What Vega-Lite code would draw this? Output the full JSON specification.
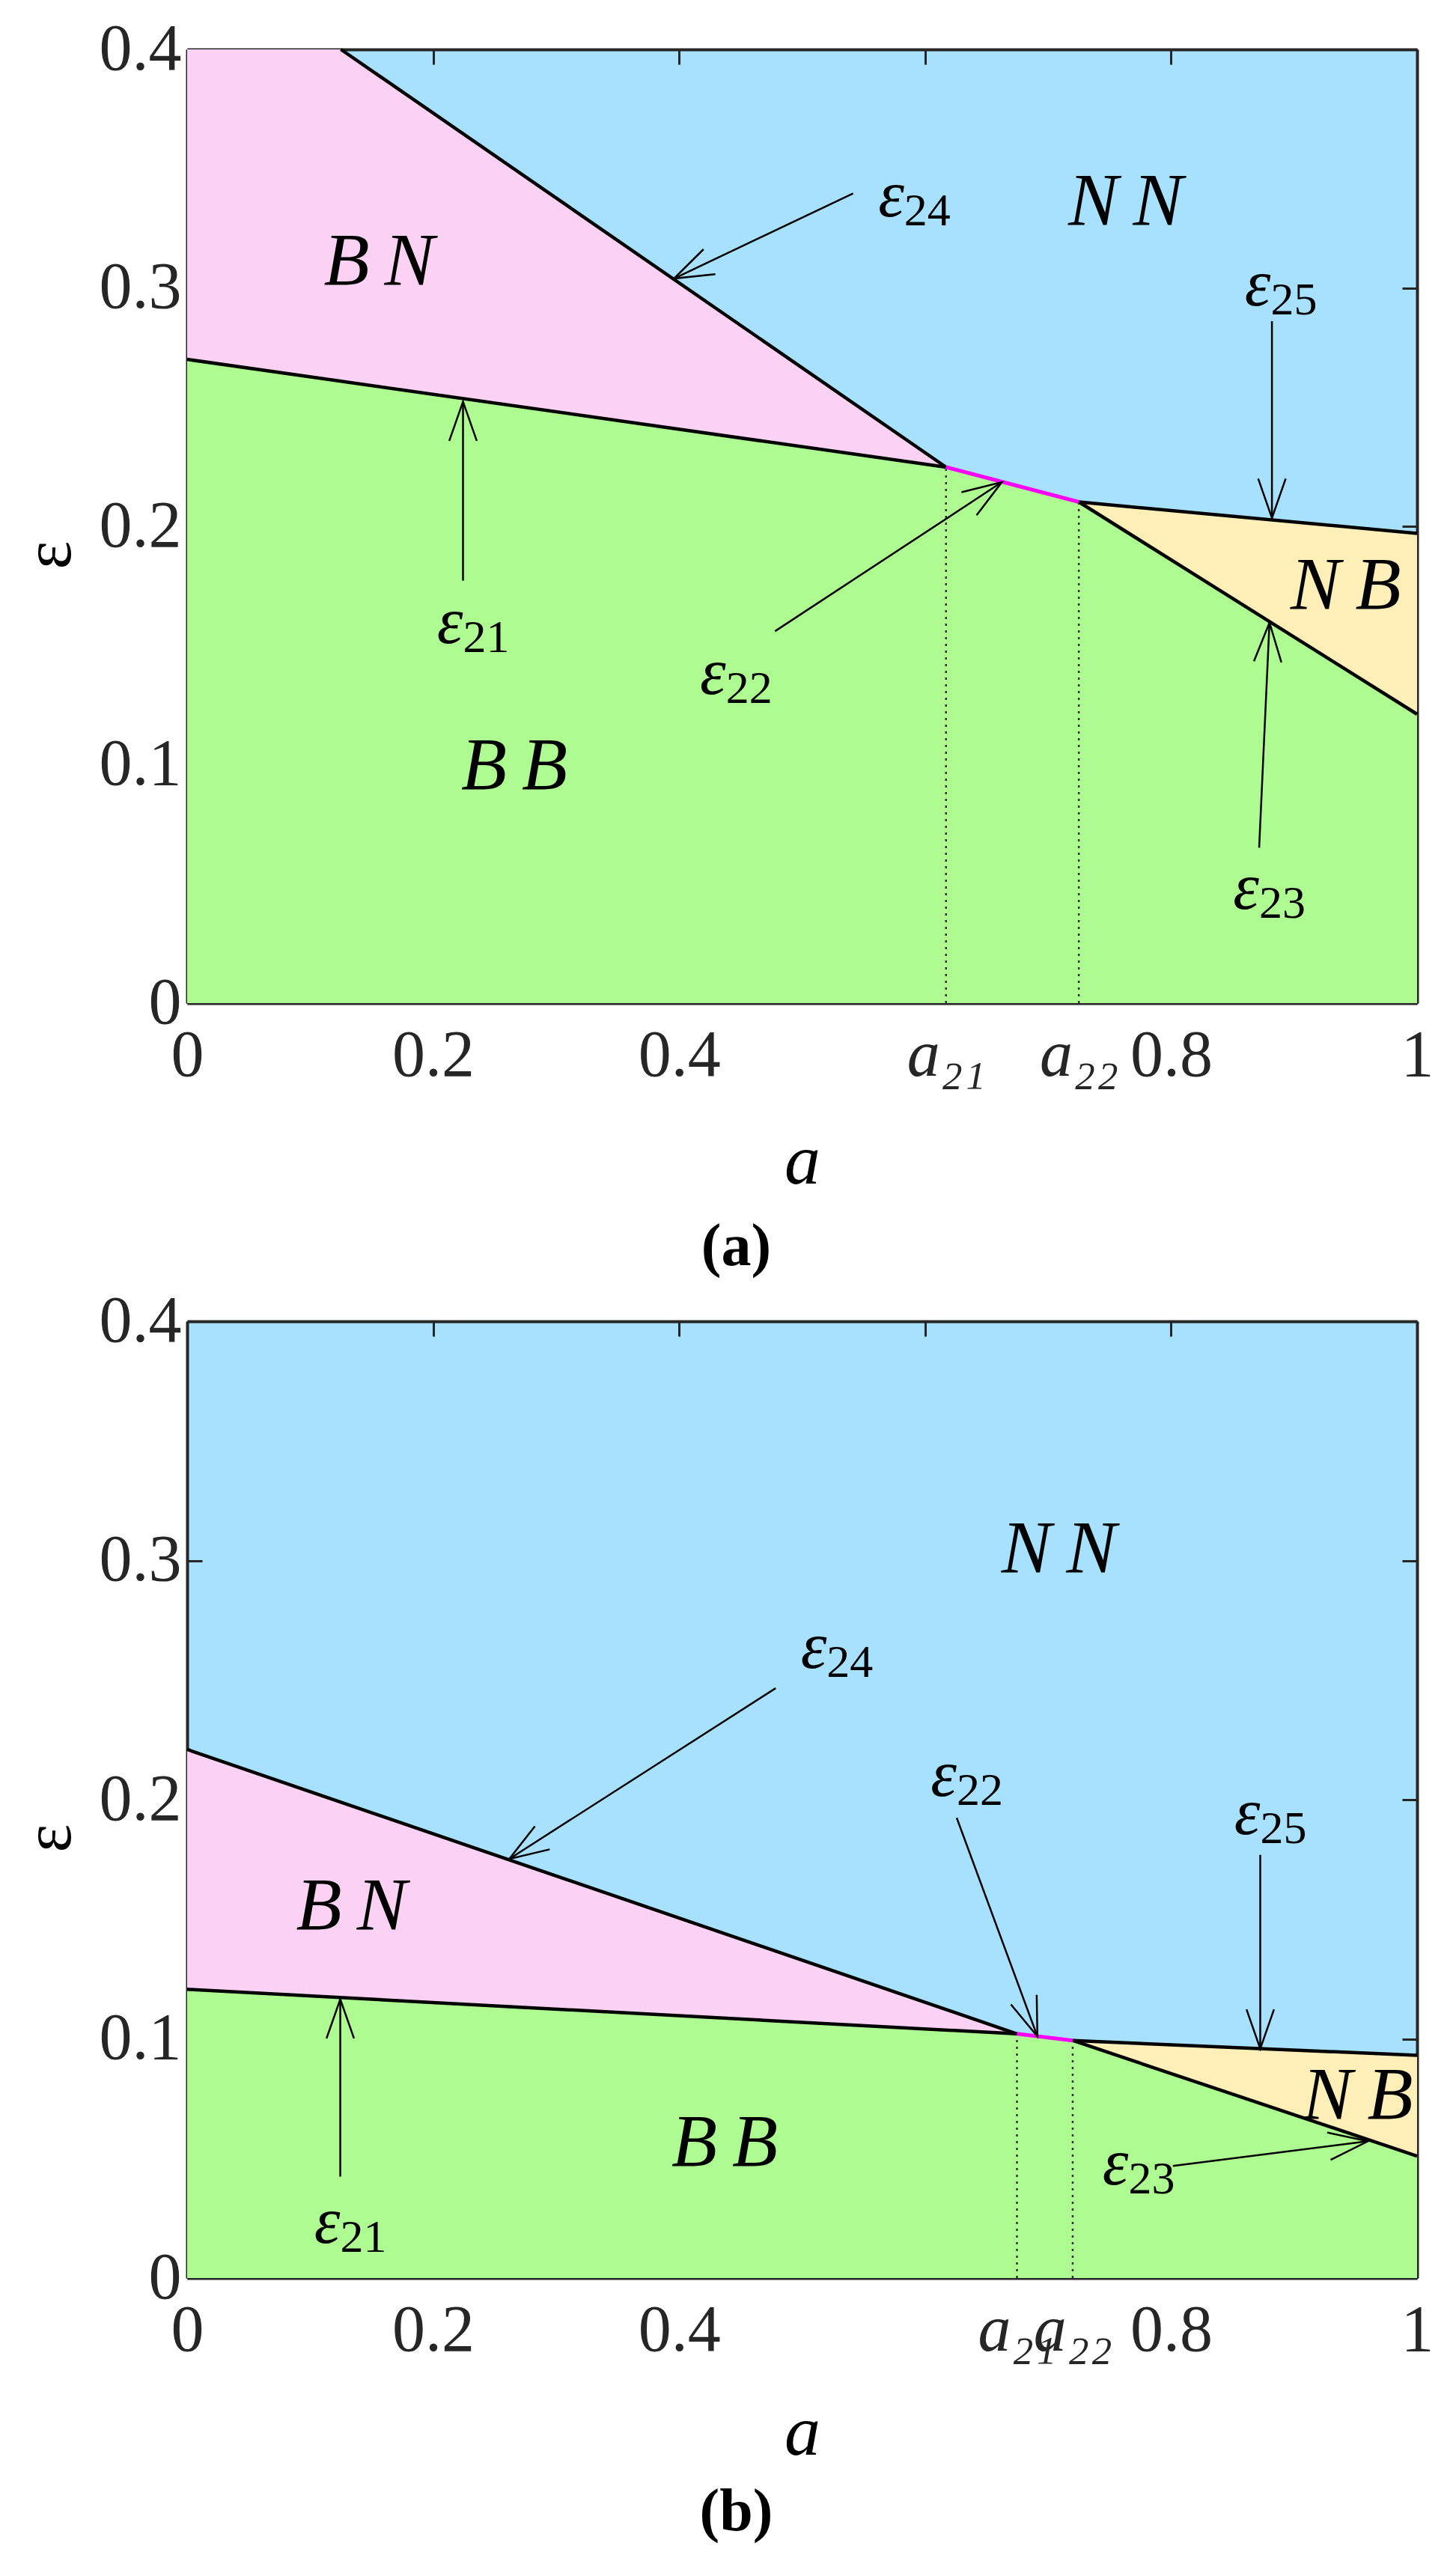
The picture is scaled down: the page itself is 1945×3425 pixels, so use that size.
{
  "$schema": "https://vega.github.io/schema/vega-lite/v6.json",
  "background": "white",
  "padding": {"left": 21, "top": 22, "right": 10, "bottom": 10},
  "spacing": 15,
  "config": {
    "view": {"stroke": null, "fill": "#a7e1fd"},
    "font": "Liberation Serif",
    "axis": {
      "grid": false, "domain": true, "domainColor": "#262626", "domainWidth": 4,
      "labelFont": "Liberation Serif", "labelFontSize": 88, "labelColor": "#262626",
      "tickColor": "#262626", "tickWidth": 3, "tickSize": -20,
      "titleFont": "Liberation Serif", "titleFontWeight": "normal", "titleColor": "black",
      "labelOverlap": false, "labelBound": false, "labelFlush": false, "zindex": 1
    },
    "text": {"font": "Liberation Serif"}
  },
  "datasets": {
    "pinkA": [{"a": 0, "e": 0.4}, {"a": 0.125, "e": 0.4}, {"a": 0.617, "e": 0.2248}],
    "yellowA": [{"a": 0.725, "e": 0.2102}, {"a": 1, "e": 0.197}],
    "greenA": [{"a": 0, "e": 0.270}, {"a": 0.617, "e": 0.2248}, {"a": 0.725, "e": 0.2102}, {"a": 1, "e": 0.1212}],
    "segA": [
      {"a": 0, "e": 0.270, "a2": 0.617, "e2": 0.2248},
      {"a": 0.125, "e": 0.4, "a2": 0.617, "e2": 0.2248},
      {"a": 0.725, "e": 0.2102, "a2": 1, "e2": 0.197},
      {"a": 0.725, "e": 0.2102, "a2": 1, "e2": 0.1212}
    ],
    "magA": [{"a": 0.617, "e": 0.2248, "a2": 0.725, "e2": 0.2102}],
    "dotA": [{"a": 0.617, "e": 0, "e2": 0.2248}, {"a": 0.725, "e": 0, "e2": 0.2102}],
    "arrA": [
      {"a": 0.5415, "e": 0.3396, "a2": 0.3958, "e2": 0.3039},
      {"a": 0.882, "e": 0.286, "a2": 0.882, "e2": 0.2035},
      {"a": 0.2243, "e": 0.1772, "a2": 0.2243, "e2": 0.2523},
      {"a": 0.478, "e": 0.156, "a2": 0.6624, "e2": 0.2185},
      {"a": 0.8716, "e": 0.0652, "a2": 0.880, "e2": 0.1596}
    ],
    "epsA": [
      {"sub": "24", "a": 0.583, "e": 0.330},
      {"sub": "25", "a": 0.881, "e": 0.2927},
      {"sub": "21", "a": 0.2243, "e": 0.1511},
      {"sub": "22", "a": 0.438, "e": 0.1297},
      {"sub": "23", "a": 0.8716, "e": 0.0397}
    ],
    "regA": [
      {"label": "B\u2009N", "a": 0.156, "e": 0.3107},
      {"label": "N\u2009N", "a": 0.763, "e": 0.336},
      {"label": "B\u2009B", "a": 0.266, "e": 0.0991},
      {"label": "N\u2009B", "a": 0.942, "e": 0.1749}
    ],
    "pinkB": [{"a": 0, "e": 0.221}, {"a": 0.6747, "e": 0.1021}],
    "yellowB": [{"a": 0.72, "e": 0.0993}, {"a": 1, "e": 0.0931}],
    "greenB": [{"a": 0, "e": 0.1207}, {"a": 0.6747, "e": 0.1021}, {"a": 0.72, "e": 0.0993}, {"a": 1, "e": 0.051}],
    "segB": [
      {"a": 0, "e": 0.1207, "a2": 0.6747, "e2": 0.1021},
      {"a": 0, "e": 0.221, "a2": 0.6747, "e2": 0.1021},
      {"a": 0.72, "e": 0.0993, "a2": 1, "e2": 0.0931},
      {"a": 0.72, "e": 0.0993, "a2": 1, "e2": 0.051}
    ],
    "magB": [{"a": 0.6747, "e": 0.1021, "a2": 0.72, "e2": 0.0993}],
    "dotB": [{"a": 0.6747, "e": 0, "e2": 0.1021}, {"a": 0.72, "e": 0, "e2": 0.0993}],
    "arrB": [
      {"a": 0.4785, "e": 0.2466, "a2": 0.2619, "e2": 0.1752},
      {"a": 0.6257, "e": 0.1924, "a2": 0.6913, "e2": 0.101},
      {"a": 0.8725, "e": 0.1769, "a2": 0.8725, "e2": 0.0959},
      {"a": 0.1245, "e": 0.0424, "a2": 0.1245, "e2": 0.1166},
      {"a": 0.8015, "e": 0.0469, "a2": 0.96, "e2": 0.0572}
    ],
    "epsB": [
      {"sub": "24", "a": 0.520, "e": 0.2552},
      {"sub": "22", "a": 0.6257, "e": 0.2017},
      {"sub": "25", "a": 0.8725, "e": 0.1855},
      {"sub": "21", "a": 0.1245, "e": 0.0148},
      {"sub": "23", "a": 0.7653, "e": 0.039}
    ],
    "regB": [
      {"label": "N\u2009N", "a": 0.7087, "e": 0.3045},
      {"label": "B\u2009N", "a": 0.1336, "e": 0.1552},
      {"label": "B\u2009B", "a": 0.437, "e": 0.0562},
      {"label": "N\u2009B", "a": 0.9517, "e": 0.0759}
    ]
  },
  "vconcat": [
    {
      "width": 1643, "height": 1274,
      "title": {"text": "(a)", "orient": "bottom", "fontSize": 80, "fontWeight": "bold", "font": "Liberation Serif", "dx": -88, "offset": 28, "color": "black"},
      "resolve": {"axis": {"x": "independent", "y": "independent"}},
      "layer": [
        {
          "data": {"name": "pinkA"},
          "mark": {"type": "area", "color": "#fcd2f4"},
          "encoding": {
            "x": {"field": "a", "type": "quantitative", "scale": {"domain": [0, 1], "nice": false},
              "axis": {"orient": "bottom", "values": [0, 0.2, 0.4, 0.6, 0.617, 0.725, 0.8, 1], "format": "~g",
                "labelExpr": "datum.value==0.617?'a₂₁':datum.value==0.725?'a₂₂':datum.value==0.6?'':datum.label",
                "labelFontStyle": {"condition": {"test": "datum.value==0.617||datum.value==0.725", "value": "italic"}, "value": "normal"},
                "tickOpacity": {"condition": {"test": "datum.value==0.617||datum.value==0.725", "value": 0}, "value": 1},
                "title": "a", "titleFontStyle": "italic", "titleFontSize": 96, "labelPadding": 46, "titlePadding": 50}},
            "y": {"field": "e", "type": "quantitative", "scale": {"domain": [0, 0.4], "nice": false},
              "axis": {"orient": "left", "values": [0, 0.1, 0.2, 0.3, 0.4], "format": "~g", "title": "ε", "titleAngle": 270, "titleY": 675, "titleFontSize": 90, "labelPadding": 28, "titlePadding": 20}}
          }
        },
        {
          "data": {"name": "yellowA"},
          "mark": {"type": "area", "color": "#feeeb8"},
          "encoding": {
            "x": {"field": "a", "type": "quantitative", "axis": {"orient": "top", "values": [0, 0.2, 0.4, 0.6, 0.8, 1], "labels": false, "title": null}},
            "y": {"field": "e", "type": "quantitative", "axis": {"orient": "right", "values": [0, 0.1, 0.2, 0.3, 0.4], "labels": false, "title": null}}
          }
        },
        {
          "data": {"name": "greenA"},
          "mark": {"type": "area", "color": "#aefc91"},
          "encoding": {
            "x": {"field": "a", "type": "quantitative", "axis": null},
            "y": {"field": "e", "type": "quantitative", "axis": null}
          }
        },
        {
          "data": {"name": "dotA"},
          "mark": {"type": "rule", "color": "#333333", "strokeWidth": 2.5, "strokeDash": [3, 6]},
          "encoding": {
            "x": {"field": "a", "type": "quantitative", "axis": null},
            "y": {"field": "e", "type": "quantitative", "axis": null},
            "y2": {"field": "e2"}
          }
        },
        {
          "data": {"name": "segA"},
          "mark": {"type": "rule", "color": "black", "strokeWidth": 4.5},
          "encoding": {
            "x": {"field": "a", "type": "quantitative", "axis": null},
            "y": {"field": "e", "type": "quantitative", "axis": null},
            "x2": {"field": "a2"}, "y2": {"field": "e2"}
          }
        },
        {
          "data": {"name": "magA"},
          "mark": {"type": "rule", "color": "#ff00ff", "strokeWidth": 5},
          "encoding": {
            "x": {"field": "a", "type": "quantitative", "axis": null},
            "y": {"field": "e", "type": "quantitative", "axis": null},
            "x2": {"field": "a2"}, "y2": {"field": "e2"}
          }
        },
        {
          "data": {"name": "arrA"},
          "mark": {"type": "rule", "color": "black", "strokeWidth": 2.5},
          "encoding": {
            "x": {"field": "a", "type": "quantitative", "axis": null},
            "y": {"field": "e", "type": "quantitative", "axis": null},
            "x2": {"field": "a2"}, "y2": {"field": "e2"}
          }
        },
        {
          "data": {"name": "arrA"},
          "transform": [{"calculate": "atan2(-(datum.e2-datum.e)*1274/0.4, (datum.a2-datum.a)*1643)*180/PI", "as": "ang"}],
          "mark": {"type": "point", "shape": "M -1 -0.35 L 0 0 L -1 0.35", "filled": false, "stroke": "black", "strokeWidth": 2.5, "size": 11000, "opacity": 1},
          "encoding": {
            "x": {"field": "a2", "type": "quantitative", "axis": null},
            "y": {"field": "e2", "type": "quantitative", "axis": null},
            "angle": {"field": "ang", "type": "quantitative", "scale": null}
          }
        },
        {
          "data": {"name": "epsA"},
          "mark": {"type": "text", "text": "ε", "align": "right", "baseline": "alphabetic", "fontSize": 88, "fontStyle": "italic", "color": "black"},
          "encoding": {
            "x": {"field": "a", "type": "quantitative", "axis": null},
            "y": {"field": "e", "type": "quantitative", "axis": null}
          }
        },
        {
          "data": {"name": "epsA"},
          "mark": {"type": "text", "align": "left", "baseline": "alphabetic", "fontSize": 62, "dy": 12, "color": "black"},
          "encoding": {
            "x": {"field": "a", "type": "quantitative", "axis": null},
            "y": {"field": "e", "type": "quantitative", "axis": null},
            "text": {"field": "sub"}
          }
        },
        {
          "data": {"name": "regA"},
          "mark": {"type": "text", "align": "center", "baseline": "middle", "fontSize": 100, "fontStyle": "italic", "color": "black"},
          "encoding": {
            "x": {"field": "a", "type": "quantitative", "axis": null},
            "y": {"field": "e", "type": "quantitative", "axis": null},
            "text": {"field": "label"}
          }
        }
      ]
    },
    {
      "width": 1643, "height": 1278,
      "title": {"text": "(b)", "orient": "bottom", "fontSize": 80, "fontWeight": "bold", "font": "Liberation Serif", "dx": -88, "offset": 20, "color": "black"},
      "resolve": {"axis": {"x": "independent", "y": "independent"}},
      "layer": [
        {
          "data": {"name": "pinkB"},
          "mark": {"type": "area", "color": "#fcd2f4"},
          "encoding": {
            "x": {"field": "a", "type": "quantitative", "scale": {"domain": [0, 1], "nice": false},
              "axis": {"orient": "bottom", "values": [0, 0.2, 0.4, 0.6, 0.6747, 0.72, 0.8, 1], "format": "~g",
                "labelExpr": "datum.value==0.6747?'a₂₁':datum.value==0.72?'a₂₂':datum.value==0.6?'':datum.label",
                "labelFontStyle": {"condition": {"test": "datum.value==0.6747||datum.value==0.72", "value": "italic"}, "value": "normal"},
                "tickOpacity": {"condition": {"test": "datum.value==0.6747||datum.value==0.72", "value": 0}, "value": 1},
                "title": "a", "titleFontStyle": "italic", "titleFontSize": 96, "labelPadding": 46, "titlePadding": 45}},
            "y": {"field": "e", "type": "quantitative", "scale": {"domain": [0, 0.4], "nice": false},
              "axis": {"orient": "left", "values": [0, 0.1, 0.2, 0.3, 0.4], "format": "~g", "title": "ε", "titleAngle": 270, "titleY": 690, "titleFontSize": 90, "labelPadding": 28, "titlePadding": 20}}
          }
        },
        {
          "data": {"name": "yellowB"},
          "mark": {"type": "area", "color": "#feeeb8"},
          "encoding": {
            "x": {"field": "a", "type": "quantitative", "axis": {"orient": "top", "values": [0, 0.2, 0.4, 0.6, 0.8, 1], "labels": false, "title": null}},
            "y": {"field": "e", "type": "quantitative", "axis": {"orient": "right", "values": [0, 0.1, 0.2, 0.3, 0.4], "labels": false, "title": null}}
          }
        },
        {
          "data": {"name": "greenB"},
          "mark": {"type": "area", "color": "#aefc91"},
          "encoding": {
            "x": {"field": "a", "type": "quantitative", "axis": null},
            "y": {"field": "e", "type": "quantitative", "axis": null}
          }
        },
        {
          "data": {"name": "dotB"},
          "mark": {"type": "rule", "color": "#333333", "strokeWidth": 2.5, "strokeDash": [3, 6]},
          "encoding": {
            "x": {"field": "a", "type": "quantitative", "axis": null},
            "y": {"field": "e", "type": "quantitative", "axis": null},
            "y2": {"field": "e2"}
          }
        },
        {
          "data": {"name": "segB"},
          "mark": {"type": "rule", "color": "black", "strokeWidth": 4.5},
          "encoding": {
            "x": {"field": "a", "type": "quantitative", "axis": null},
            "y": {"field": "e", "type": "quantitative", "axis": null},
            "x2": {"field": "a2"}, "y2": {"field": "e2"}
          }
        },
        {
          "data": {"name": "magB"},
          "mark": {"type": "rule", "color": "#ff00ff", "strokeWidth": 5},
          "encoding": {
            "x": {"field": "a", "type": "quantitative", "axis": null},
            "y": {"field": "e", "type": "quantitative", "axis": null},
            "x2": {"field": "a2"}, "y2": {"field": "e2"}
          }
        },
        {
          "data": {"name": "arrB"},
          "mark": {"type": "rule", "color": "black", "strokeWidth": 2.5},
          "encoding": {
            "x": {"field": "a", "type": "quantitative", "axis": null},
            "y": {"field": "e", "type": "quantitative", "axis": null},
            "x2": {"field": "a2"}, "y2": {"field": "e2"}
          }
        },
        {
          "data": {"name": "arrB"},
          "transform": [{"calculate": "atan2(-(datum.e2-datum.e)*1278/0.4, (datum.a2-datum.a)*1643)*180/PI", "as": "ang"}],
          "mark": {"type": "point", "shape": "M -1 -0.35 L 0 0 L -1 0.35", "filled": false, "stroke": "black", "strokeWidth": 2.5, "size": 11000, "opacity": 1},
          "encoding": {
            "x": {"field": "a2", "type": "quantitative", "axis": null},
            "y": {"field": "e2", "type": "quantitative", "axis": null},
            "angle": {"field": "ang", "type": "quantitative", "scale": null}
          }
        },
        {
          "data": {"name": "epsB"},
          "mark": {"type": "text", "text": "ε", "align": "right", "baseline": "alphabetic", "fontSize": 88, "fontStyle": "italic", "color": "black"},
          "encoding": {
            "x": {"field": "a", "type": "quantitative", "axis": null},
            "y": {"field": "e", "type": "quantitative", "axis": null}
          }
        },
        {
          "data": {"name": "epsB"},
          "mark": {"type": "text", "align": "left", "baseline": "alphabetic", "fontSize": 62, "dy": 12, "color": "black"},
          "encoding": {
            "x": {"field": "a", "type": "quantitative", "axis": null},
            "y": {"field": "e", "type": "quantitative", "axis": null},
            "text": {"field": "sub"}
          }
        },
        {
          "data": {"name": "regB"},
          "mark": {"type": "text", "align": "center", "baseline": "middle", "fontSize": 100, "fontStyle": "italic", "color": "black"},
          "encoding": {
            "x": {"field": "a", "type": "quantitative", "axis": null},
            "y": {"field": "e", "type": "quantitative", "axis": null},
            "text": {"field": "label"}
          }
        }
      ]
    }
  ]
}
